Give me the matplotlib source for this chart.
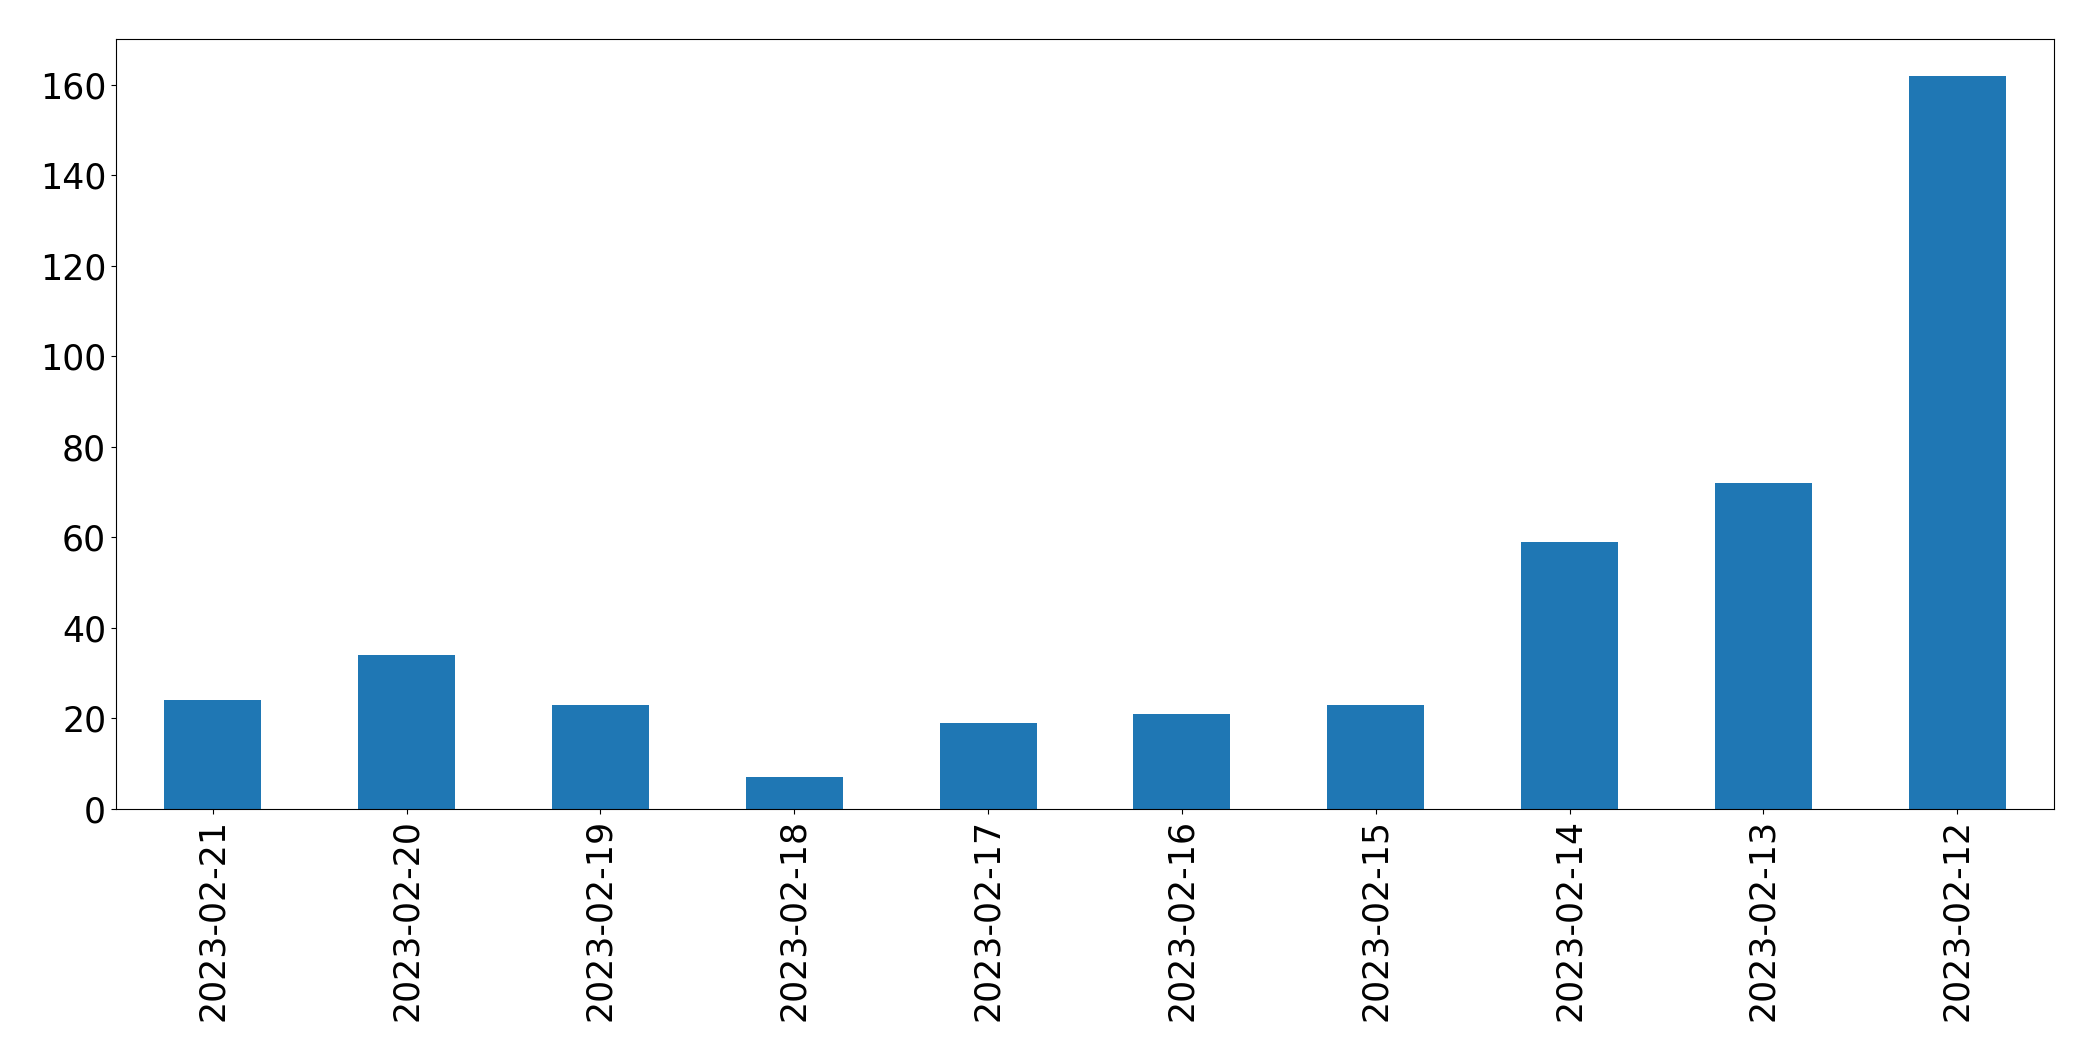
import pandas as pd
import matplotlib
matplotlib.use("Agg")
import matplotlib.pyplot as plt

# daily counts, newest first (as in the original)
dates = ["2023-02-21", "2023-02-20", "2023-02-19", "2023-02-18", "2023-02-17",
         "2023-02-16", "2023-02-15", "2023-02-14", "2023-02-13", "2023-02-12"]
counts = [24, 34, 23, 7, 19, 21, 23, 59, 72, 162]

ser = pd.Series(counts, index=dates)

fig, ax = plt.subplots(figsize=(20.93, 10.61), dpi=100)
fig.subplots_adjust(left=0.0554, right=0.9814, top=0.9628, bottom=0.2375)

ser.plot.bar(ax=ax, color="#1f77b4")
ax.set_ylim(0, 170)
ax.tick_params(axis="both", labelsize=25)

plt.savefig("out.png", dpi=100)
plt.close()
